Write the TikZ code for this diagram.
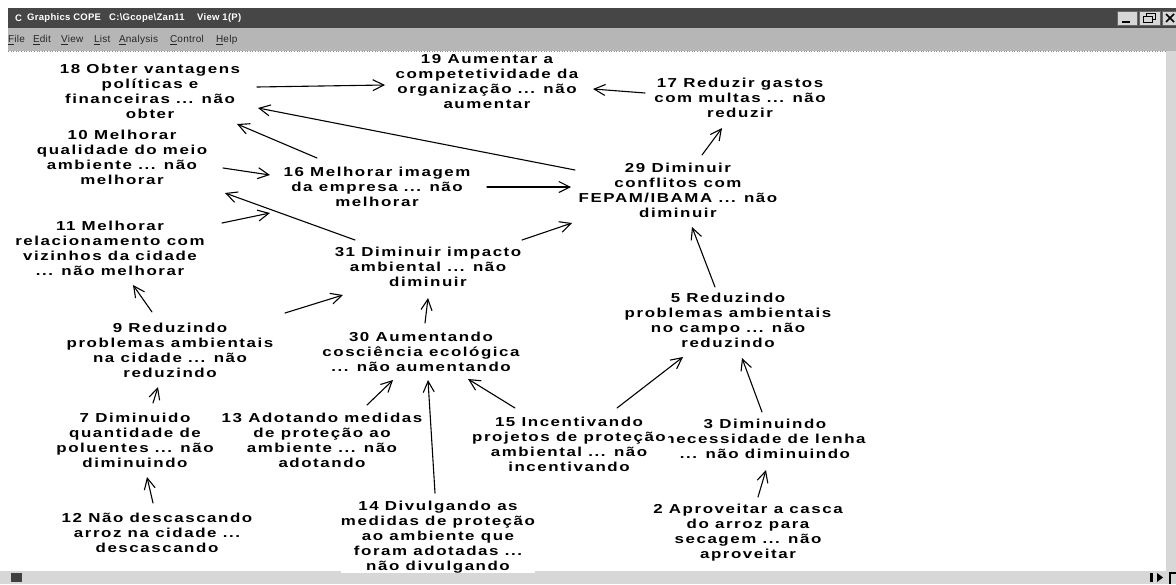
\documentclass[tikz,border=0pt]{standalone}
\usepackage{fontspec}
\setmainfont{Liberation Sans}
\newfontfamily\mapfont{Liberation Sans}[FakeStretch=1.3,LetterSpace=12]
\newfontfamily\chromefont{Liberation Sans}[LetterSpace=3]
\usetikzlibrary{arrows.meta}
\definecolor{titlegray}{RGB}{70,70,70}
\definecolor{menugray}{RGB}{182,182,182}
\definecolor{framegray}{RGB}{215,215,215}
\begin{document}
\begin{tikzpicture}[x=1pt,y=-1pt,
  concept/.style={align=center, inner sep=0pt, fill=white,
    font=\mapfont\bfseries\fontsize{13}{15}\selectfont},
  link/.style={line width=1.1pt, line cap=round,
    -{Straight Barb[length=11pt,width=11pt,line width=1.1pt]}},
  menuitem/.style={anchor=west, inner sep=0pt, text=black!85,
    font=\chromefont\fontsize{10}{12}\selectfont},
  titletext/.style={anchor=west, inner sep=0pt, text=white,
    font=\chromefont\bfseries\fontsize{9.5}{12}\selectfont},
  winbtn/.style={fill=framegray, draw=black!60, line width=0.6pt},
]
\useasboundingbox (0,0) rectangle (1176,584);
\fill[white] (0,0) rectangle (1176,584);

% window title bar and menu bar
\fill[titlegray] (8,8) rectangle (1176,28);
\fill[menugray] (8,28) rectangle (1176,51);
\draw[black!45, line width=0.6pt, dotted] (8,51) -- (1166,51);
\node[titletext] (ticon) at (15,18) {C};
\node[titletext] (tapp) at (27,18) {Graphics COPE};
\node[titletext] (tfile) at (109,18) {C:\textbackslash Gcope\textbackslash Zan11};
\node[titletext] (tview) at (197,18) {View 1(P)};
\draw[winbtn] (1117,11) rectangle (1137,25);
\draw[winbtn] (1139,11) rectangle (1160,25);
\draw[winbtn] (1162,11) rectangle (1176,25);
\draw[black, line width=1.6pt] (1122,22) -- (1130,22);
\draw[black, line width=1pt] (1146,13.5) rectangle (1155,19.5);
\draw[black, line width=1pt, fill=framegray] (1143,16.5) rectangle (1152,22.5);
\draw[black, line width=1.5pt] (1166,14) -- (1174,22) (1166,22) -- (1174,14);

\node[menuitem] (mfile) at (8,40) {\underline{F}ile};
\node[menuitem] (medit) at (33,40) {\underline{E}dit};
\node[menuitem] (mview) at (61,40) {\underline{V}iew};
\node[menuitem] (mlist) at (94,40) {\underline{L}ist};
\node[menuitem] (manal) at (119,40) {\underline{A}nalysis};
\node[menuitem] (mctrl) at (170,40) {\underline{C}ontrol};
\node[menuitem] (mhelp) at (216,40) {\underline{H}elp};

% right frame edge and status bar
\fill[framegray] (1166,51) rectangle (1176,571);
\fill[framegray] (0,571) rectangle (1176,584);
\fill[black!75] (11,573) rectangle (22,582);
\fill[black] (1150,573) rectangle (1153,582);
\fill[black] (1157,573) -- (1163,577.5) -- (1157,582) -- cycle;
\draw[black, line width=1.2pt] (1170,584) -- (1170,573) -- (1176,573);

% concepts of the cognitive map
\node[concept] (n18) at (150,91) {18 Obter vantagens\\políticas e\\financeiras ... não\\obter};
\node[concept] (n19) at (487,82) {19 Aumentar a\\competetividade da\\organização ... não\\aumentar};
\node[concept] (n17) at (740,98) {17 Reduzir gastos\\com multas ... não\\reduzir};
\node[concept] (n10) at (122,157) {10 Melhorar\\qualidade do meio\\ambiente ... não\\melhorar};
\node[concept] (n16) at (377,187) {16 Melhorar imagem\\da empresa ... não\\melhorar};
\node[concept] (n29) at (678,190) {29 Diminuir\\conflitos com\\FEPAM/IBAMA ... não\\diminuir};
\node[concept] (n11) at (110,248) {11 Melhorar\\relacionamento com\\vizinhos da cidade\\... não melhorar};
\node[concept] (n31) at (428,267) {31 Diminuir impacto\\ambiental ... não\\diminuir};
\node[concept] (n9) at (170,350) {9 Reduzindo\\problemas ambientais\\na cidade ... não\\reduzindo};
\node[concept] (n30) at (421,352) {30 Aumentando\\cosciência ecológica\\... não aumentando};
\node[concept] (n5) at (728,320) {5 Reduzindo\\problemas ambientais\\no campo ... não\\reduzindo};
\node[concept] (n7) at (135,440) {7 Diminuido\\quantidade de\\poluentes ... não\\diminuindo};
\node[concept] (n13) at (322,440) {13 Adotando medidas\\de proteção ao\\ambiente ... não\\adotando};
\node[concept] (n3) at (765,439) {3 Diminuindo\\necessidade de lenha\\... não diminuindo};
\node[concept, inner xsep=2pt] (n15) at (569,444) {15 Incentivando\\projetos de proteção\\ambiental ... não\\incentivando};
\node[concept] (n14) at (438,537) {14 Divulgando as\\medidas de proteção\\ao ambiente que\\foram adotadas ...\\não divulgando};
\node[concept] (n12) at (157,533) {12 Não descascando\\arroz na cidade ...\\descascando};
\node[concept] (n2) at (748,533) {2 Aproveitar a casca\\do arroz para\\secagem ... não\\aproveitar};

% causal links
\draw[link] ([shift={(107,-4)}]n18.center) -- ([shift={(-102,3)}]n19.center);
\draw[link] ([shift={(-95,-5)}]n17.center) -- ([shift={(106,7)}]n19.center);
\draw[link] ([shift={(-103,-20)}]n29.center) -- ([shift={(108,17)}]n18.center);
\draw[link] ([shift={(-60,-29)}]n16.center) -- ([shift={(87,33)}]n18.center);
\draw[link] ([shift={(101,11)}]n10.center) -- ([shift={(-107,-12)}]n16.center);
\draw[link] ([shift={(110,0)}]n16.center) -- ([shift={(-107,-3)}]n29.center);
\draw[link] ([shift={(94,-27)}]n31.center) -- ([shift={(-106,33)}]n29.center);
\draw[link] ([shift={(-73,-27)}]n31.center) -- ([shift={(103,36)}]n10.center);
\draw[link] ([shift={(112,-25)}]n11.center) -- ([shift={(-107,26)}]n16.center);
\draw[link] ([shift={(24,-35)}]n29.center) -- ([shift={(-18,30)}]n17.center);
\draw[link] ([shift={(-13,-33)}]n5.center) -- ([shift={(14,37)}]n29.center);
\draw[link] ([shift={(-18,-38)}]n9.center) -- ([shift={(23,37)}]n11.center);
\draw[link] ([shift={(115,-37)}]n9.center) -- ([shift={(-85,28)}]n31.center);
\draw[link] ([shift={(4,-29)}]n30.center) -- ([shift={(0,31)}]n31.center);
\draw[link] ([shift={(18,-37)}]n7.center) -- ([shift={(-12,37)}]n9.center);
\draw[link] ([shift={(-4,-30)}]n12.center) -- ([shift={(12,37)}]n7.center);
\draw[link] ([shift={(45,-35)}]n13.center) -- ([shift={(-28,28)}]n30.center);
\draw[link] ([shift={(-3,-44)}]n14.center) -- ([shift={(7,28)}]n30.center);
\draw[link] ([shift={(-54,-36)}]n15.center) -- ([shift={(47,27)}]n30.center);
\draw[link] ([shift={(48,-36)}]n15.center) -- ([shift={(-45,37)}]n5.center);
\draw[link] ([shift={(-3,-27)}]n3.center) -- ([shift={(14,38)}]n5.center);
\draw[link] ([shift={(10,-36)}]n2.center) -- ([shift={(1,31)}]n3.center);
\end{tikzpicture}
\end{document}
